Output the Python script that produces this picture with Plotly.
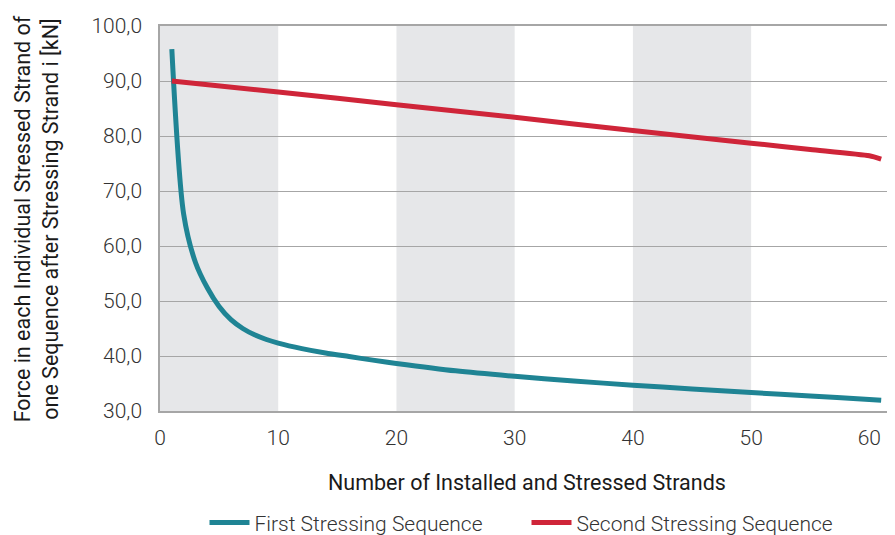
import plotly.graph_objects as go

# readings from the chart: strand number vs force [kN]
first_x = [1, 2, 3, 4, 5, 6, 7, 8, 9, 10, 12, 14, 16, 18, 20, 25, 30, 35, 40, 45, 50, 55, 60, 61]
first_force = [95.8, 65.8, 57.0, 52.4, 49.0, 46.6, 45.0, 43.85, 43.0, 42.35, 41.35, 40.55, 39.9, 39.25,
               38.65, 37.3, 36.3, 35.45, 34.7, 34.0, 33.35, 32.75, 32.1, 31.95]

second_x = [1, 10, 20, 30, 40, 50, 55, 60, 61]
second_force = [90.0, 88.0, 85.7, 83.4, 81.0, 78.7, 77.55, 76.4, 75.8]

x_ticks = [0, 10, 20, 30, 40, 50, 60]
y_ticks = [30, 40, 50, 60, 70, 80, 90, 100]
shaded = [(0, 10), (20, 30), (40, 50)]

teal = '#1f8494'
red = '#cf2539'
grid = '#a6a6a6'
font_name = 'Roboto'

fig = go.Figure()
fig.add_trace(go.Scatter(x=first_x, y=first_force, name='First Stressing Sequence', mode='lines',
                         line=dict(color=teal, width=5, shape='spline', smoothing=0.8)))
fig.add_trace(go.Scatter(x=second_x, y=second_force, name='Second Stressing Sequence', mode='lines',
                         line=dict(color=red, width=5, shape='spline', smoothing=0.6)))

# grey bands behind every other decade
for x0, x1 in shaded:
    fig.add_shape(type='rect', xref='x', yref='paper', x0=x0, x1=x1, y0=0, y1=1,
                  fillcolor='#e6e7e9', line_width=0, layer='below')

tick_font = dict(family=font_name, size=21, color='#333333', weight=300)
title_font = dict(family=font_name, size=21.5, color='#1a1a1a')

# page has an 8px body margin, so the figure is 8px smaller than the window
fig.update_layout(
    width=887, height=527,
    margin=dict(l=152, r=2, t=18, b=124, autoexpand=False),
    paper_bgcolor='white', plot_bgcolor='white',
    separators=',.',
    showlegend=True,
    legend=dict(orientation='h', x=0.5, xanchor='center', yref='container', y=0.023, yanchor='middle',
                font=dict(family=font_name, size=21, color='#333333', weight=300),
                itemwidth=40, entrywidth=267, tracegroupgap=0),
    xaxis=dict(range=[0, 62], tickvals=x_ticks, showgrid=False, zeroline=False,
               showline=True, linecolor=grid, linewidth=1.5, mirror=True, automargin=False,
               tickfont=tick_font, ticks='', ticklabelstandoff=7),
    yaxis=dict(range=[30, 100], tickvals=y_ticks, tickformat='.1f', showgrid=True,
               gridcolor=grid, gridwidth=1, zeroline=False, automargin=False,
               showline=True, linecolor=grid, linewidth=1.5, mirror=True,
               tickfont=tick_font, ticks='', ticklabelstandoff=12),
)

fig.add_annotation(text='Number of Installed and Stressed Strands', xref='paper', yref='paper',
                   x=0.5, y=-0.185, xanchor='center', yanchor='middle', showarrow=False, font=title_font)
fig.add_annotation(text='Force in each Individual Stressed Strand of<br>one Sequence after Stressing Strand i [kN]',
                   xref='paper', yref='paper', x=-0.168, y=0.5, xanchor='center', yanchor='middle',
                   textangle=-90, showarrow=False, font=title_font)

fig.write_html('out.html')
